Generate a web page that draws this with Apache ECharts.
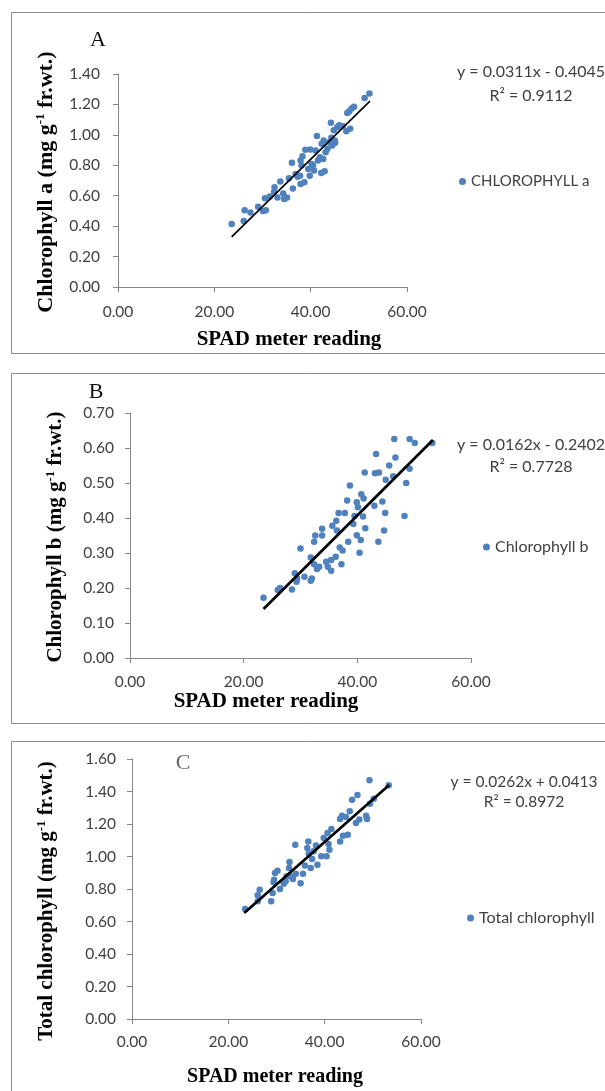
<!DOCTYPE html>
<html><head><meta charset="utf-8">
<script src="https://cdn.jsdelivr.net/npm/echarts@6/dist/echarts.min.js"></script>
<style>html,body{margin:0;padding:0;background:#fff}#c{width:605px;height:1091px}</style>
</head><body><div id="c"></div>
<script>
// ---- Data ----
const xTicks = [0, 20, 40, 60];
const yTicksA = [0, 0.2, 0.4, 0.6, 0.8, 1.0, 1.2, 1.4];
const yTicksB = [0, 0.1, 0.2, 0.3, 0.4, 0.5, 0.6, 0.7];
const yTicksC = [0, 0.2, 0.4, 0.6, 0.8, 1.0, 1.2, 1.4, 1.6];

const spadA = [23.6,26.1,26.3,27.5,29.1,30.1,30.7,30.5,31.5,32.4,32.5,33.1,33.7,34.3,34.5,35.1,35.5,36.1,36.3,36.9,37.3,37.8,37.9,38.1,38.3,37.9,38.7,38.9,39.5,39.8,39.9,40.2,40.5,40.7,41.0,41.3,41.5,41.9,42.2,42.3,42.6,42.9,42.7,43.1,43.5,43.9,44.2,44.3,44.5,44.8,45.0,45.1,45.5,45.9,46.7,47.4,47.6,48.0,48.2,48.5,49.0,51.2,52.2];
const chlA  = [0.414,0.434,0.505,0.49,0.527,0.50,0.505,0.584,0.595,0.626,0.655,0.589,0.694,0.615,0.578,0.589,0.714,0.816,0.648,0.743,0.725,0.732,0.831,0.798,0.86,0.677,0.688,0.902,0.776,0.732,0.904,0.809,0.798,0.765,0.897,0.992,0.831,0.853,0.75,0.941,0.842,0.761,0.963,0.886,0.908,0.952,1.08,0.981,0.93,1.03,0.963,0.948,1.05,1.063,1.056,1.023,1.144,1.155,1.04,1.173,1.184,1.243,1.272];
const trendAx = [23.6, 52.3];
const trendAy = [0.329, 1.222];

const spadB = [23.5,26.0,26.4,28.5,29.0,29.3,29.4,30.0,30.7,31.8,31.8,32.0,32.4,32.6,32.4,32.9,33.3,33.8,33.8,34.5,34.8,35.4,35.4,35.6,36.2,36.3,36.4,36.7,36.9,37.2,37.4,37.8,38.2,38.4,38.7,39.3,39.5,39.9,39.9,40.1,40.4,40.6,40.7,41.0,41.1,41.3,41.4,43.0,43.1,43.3,43.8,43.7,44.4,44.7,44.9,45.0,45.6,46.3,46.5,46.7,48.3,48.6,49.2,49.2,50.1,53.2];
const chlB  = [0.172,0.194,0.20,0.196,0.242,0.218,0.227,0.313,0.232,0.287,0.221,0.227,0.332,0.350,0.268,0.254,0.261,0.369,0.350,0.275,0.261,0.249,0.280,0.378,0.289,0.392,0.364,0.414,0.316,0.268,0.307,0.414,0.450,0.332,0.493,0.383,0.406,0.445,0.351,0.431,0.301,0.337,0.468,0.404,0.456,0.530,0.371,0.435,0.528,0.583,0.530,0.332,0.447,0.364,0.414,0.509,0.550,0.519,0.626,0.573,0.406,0.500,0.541,0.626,0.614,0.614];
const trendBx = [23.5, 53.3];
const trendBy = [0.140, 0.623];

const spadC = [23.5,26.1,26.5,26.1,28.9,29.2,29.4,29.5,29.7,30.2,30.7,31.5,31.9,32.1,32.6,32.7,32.9,33.4,33.9,34.0,35.0,35.5,35.9,36.4,36.6,36.7,37.1,37.4,37.7,38.2,38.5,39.3,39.8,40.4,40.6,40.8,41.0,41.4,43.2,43.2,43.6,43.8,44.4,44.8,45.2,45.7,46.5,46.8,47.2,48.6,48.8,49.3,49.4,50.2,53.3];
const chlC  = [0.677,0.761,0.796,0.724,0.724,0.775,0.841,0.857,0.898,0.913,0.800,0.833,0.847,0.878,0.929,0.966,0.878,0.862,1.073,0.894,0.835,0.894,0.944,1.052,1.093,1.017,0.929,0.985,1.032,1.067,0.950,1.001,1.114,1.001,1.145,1.077,1.042,1.169,1.093,1.231,1.251,1.128,1.243,1.134,1.278,1.350,1.206,1.378,1.227,1.251,1.231,1.469,1.325,1.356,1.438];
const trendCx = [23.3, 53.4];
const trendCy = [0.652, 1.440];

const names = ['CHLOROPHYLL a', 'Chlorophyll b', 'Total chlorophyll'];
const equations = [['y = 0.0311x - 0.4045', 'R² = 0.9112'], ['y = 0.0162x - 0.2402', 'R² = 0.7728'], ['y = 0.0262x + 0.0413', 'R² = 0.8972']];
const yTitles = [['Chlorophyll a (mg g', ' fr.wt.)'], ['Chlorophyll b (mg g', ' fr.wt.)'], ['Total chlorophyll (mg g', ' fr.wt.)']];
const xTitle = 'SPAD meter reading';
const panelLetters = ['A', 'B', 'C'];

// ---- Build ----
const zip = (xs, ys) => xs.map((x, i) => [x, ys[i]]);
const pts = [zip(spadA, chlA), zip(spadB, chlB), zip(spadC, chlC)];
const trends = [zip(trendAx, trendAy), zip(trendBx, trendBy), zip(trendCx, trendCy)];
const yTicks = [yTicksA, yTicksB, yTicksC];

const grids = [
  {left: 118, top: 74, width: 289, height: 213},
  {left: 130, top: 413, width: 341, height: 245},
  {left: 132, top: 759, width: 289, height: 260}
];
const labelMargins = [[18, 17], [16, 16], [16, 15]];
const lineWidths = [1.7, 2.7, 2.7];
const tickFont = 'Lato';
const axisGray = '#868686';
const labelColor = '#404040';

const xAxis = grids.map((g, i) => ({
  type: 'value', gridIndex: i, min: xTicks[0], max: xTicks[xTicks.length - 1], interval: xTicks[1] - xTicks[0],
  splitLine: {show: false},
  axisLine: {show: true, onZero: false, lineStyle: {color: axisGray, width: 1}},
  axisTick: {show: true, inside: false, length: 5, lineStyle: {color: axisGray}},
  axisLabel: {margin: labelMargins[i][1], color: labelColor, fontFamily: tickFont, fontSize: 15.5, formatter: v => v.toFixed(2)}
}));
const yAxis = grids.map((g, i) => ({
  type: 'value', gridIndex: i, min: yTicks[i][0], max: yTicks[i][yTicks[i].length - 1], interval: yTicks[i][1] - yTicks[i][0],
  splitLine: {show: false},
  axisLine: {show: true, onZero: false, lineStyle: {color: axisGray, width: 1}},
  axisTick: {show: true, inside: false, length: 5, lineStyle: {color: axisGray}},
  axisLabel: {margin: labelMargins[i][0], color: labelColor, fontFamily: tickFont, fontSize: 15.5, formatter: v => v.toFixed(2)}
}));

const series = [];
for (let i = 0; i < 3; i++) {
  series.push({name: names[i], type: 'scatter', xAxisIndex: i, yAxisIndex: i, data: pts[i], symbolSize: 6.5,
    itemStyle: {color: '#4F81BD', opacity: 1}, z: 2});
  series.push({name: 'trend' + i, type: 'line', xAxisIndex: i, yAxisIndex: i, data: trends[i], showSymbol: false,
    lineStyle: {color: '#000', width: lineWidths[i]}, z: 3, silent: true});
}

const legendPos = [[459, 174], [483, 539], [467, 910]];
const legendFont = [15, 16, 16];
const legend = names.map((n, i) => ({
  data: [n], left: legendPos[i][0], top: legendPos[i][1], padding: 0, orient: 'vertical',
  icon: 'circle', itemWidth: 7, itemHeight: 7, itemGap: 5,
  textStyle: {fontFamily: tickFont, fontSize: legendFont[i], color: labelColor}, selectedMode: false
}));

const boxes = [[11, 12, 600, 341], [11, 373, 600, 350], [11, 741, 600, 360]];
const eqPos = [[531, 72, 96, 16], [531, 445, 467, 16], [524, 782, 802, 15.5]];
const letterPos = [[98, 40, '#111'], [96, 392, '#111'], [183, 763, '#666']];
const xTitlePos = [[289, 340, 21], [266, 702, 21], [275, 1077, 20]];
const yTitlePos = [[46, 182, 22], [56, 537, 21], [47, 901, 21]];

const graphic = [];
boxes.forEach(b => graphic.push({type: 'rect', shape: {x: b[0] + 0.5, y: b[1] + 0.5, width: b[2], height: b[3]},
  style: {fill: 'none', stroke: '#8c8c8c', lineWidth: 1}, silent: true, z: -1}));
for (let i = 0; i < 3; i++) {
  const ef = eqPos[i][3] + 'px Lato';
  const fs = yTitlePos[i][2];
  graphic.push({type: 'text', x: eqPos[i][0], y: eqPos[i][1], style: {text: equations[i][0], align: 'center', verticalAlign: 'middle', font: ef, fill: labelColor}});
  graphic.push({type: 'text', x: eqPos[i][0], y: eqPos[i][2], style: {text: equations[i][1], align: 'center', verticalAlign: 'middle', font: ef, fill: labelColor}});
  graphic.push({type: 'text', x: letterPos[i][0], y: letterPos[i][1], style: {text: panelLetters[i], align: 'center', verticalAlign: 'middle', font: '22px "Liberation Serif"', fill: letterPos[i][2]}});
  graphic.push({type: 'text', x: xTitlePos[i][0], y: xTitlePos[i][1], style: {text: xTitle, align: 'center', verticalAlign: 'middle', font: 'bold ' + xTitlePos[i][2] + 'px "Liberation Serif"', fill: '#000'}});
  graphic.push({type: 'text', x: yTitlePos[i][0], y: yTitlePos[i][1], rotation: Math.PI / 2,
    style: {text: '{a|' + yTitles[i][0] + '}{s|-1}{a|' + yTitles[i][1] + '}', align: 'center', verticalAlign: 'middle',
      rich: {a: {fontFamily: 'Liberation Serif', fontWeight: 'bold', fontSize: fs, fill: '#000', color: '#000', lineHeight: 24},
             s: {fontFamily: 'Liberation Serif', fontWeight: 'bold', fontSize: 13, fill: '#000', color: '#000', lineHeight: 24, padding: [0, 0, 11, 0]}}}});
}

const chart = echarts.init(document.getElementById('c'), null, {renderer: 'canvas'});
chart.setOption({
  animation: false, backgroundColor: '#fff',
  grid: grids, xAxis: xAxis, yAxis: yAxis, series: series, legend: legend, graphic: graphic
});
</script></body></html>
